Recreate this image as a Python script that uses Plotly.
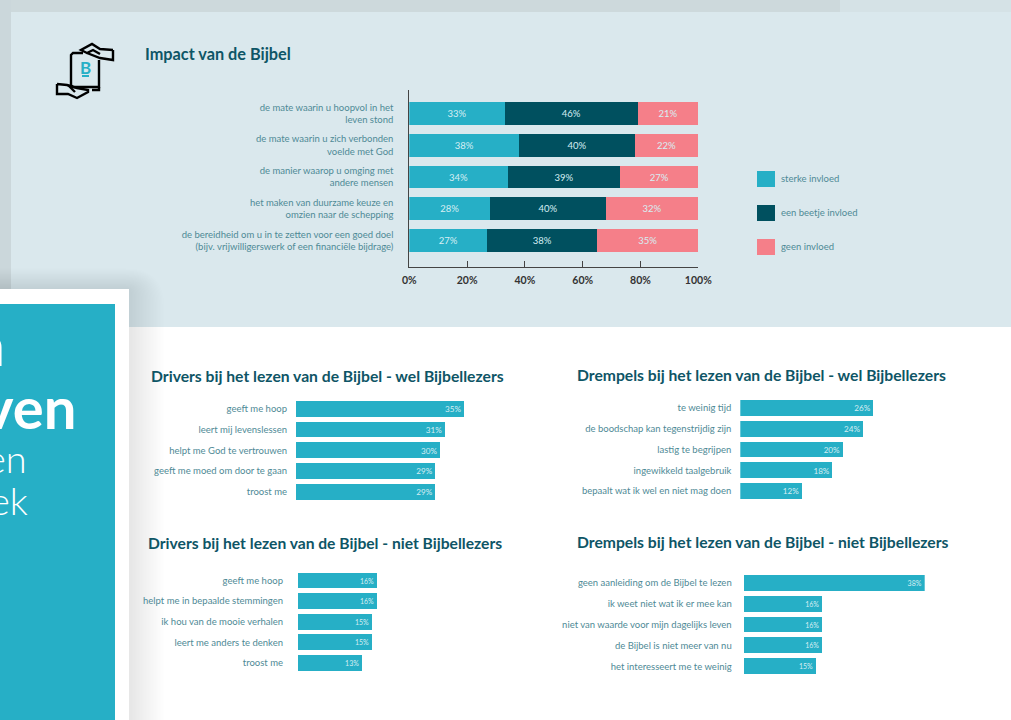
import plotly.graph_objects as go

W, H = 1011, 720
FONT = "Lato"
TEAL = "#26AFC6"
DARK = "#00505F"
PINK = "#F57F89"
TXT = "#4F8A96"
TITLE = "#0E5566"
PANEL = "#DAE8ED"
LBL = "#D6EEF3"

# ---- data -------------------------------------------------------------
impact_title = "Impact van de Bijbel"
impact_cats = [
    "de mate waarin u hoopvol in het<br>leven stond",
    "de mate waarin u zich verbonden<br>voelde met God",
    "de manier waarop u omging met<br>andere mensen",
    "het maken van duurzame keuze en<br>omzien naar de schepping",
    "de bereidheid om u in te zetten voor een goed doel<br>(bijv. vrijwilligerswerk of een financiële bijdrage)",
]
sterke = [33, 38, 34, 28, 27]
beetje = [46, 40, 39, 40, 38]
geen = [21, 22, 27, 32, 35]
legend_names = ["sterke invloed", "een beetje invloed", "geen invloed"]
impact_ticks = [0, 20, 40, 60, 80, 100]
impact_ticktext = ["0%", "20%", "40%", "60%", "80%", "100%"]

t_a = "Drivers bij het lezen van de Bijbel - wel Bijbellezers"
c_a = ["geeft me hoop", "leert mij levenslessen", "helpt me God te vertrouwen", "geeft me moed om door te gaan", "troost me"]
v_a = [35, 31, 30, 29, 29]
l_a = ["35%", "31%", "30%", "29%", "29%"]

t_b = "Drempels bij het lezen van de Bijbel - wel Bijbellezers"
c_b = ["te weinig tijd", "de boodschap kan tegenstrijdig zijn", "lastig te begrijpen", "ingewikkeld taalgebruik", "bepaalt wat ik wel en niet mag doen"]
v_b = [26, 24, 20, 18, 12]
l_b = ["26%", "24%", "20%", "18%", "12%"]

t_c = "Drivers bij het lezen van de Bijbel - niet Bijbellezers"
c_c = ["geeft me hoop", "helpt me in bepaalde stemmingen", "ik hou van de mooie verhalen", "leert me anders te denken", "troost me"]
v_c = [16, 16, 15, 15, 13]
l_c = ["16%", "16%", "15%", "15%", "13%"]

t_d = "Drempels bij het lezen van de Bijbel - niet Bijbellezers"
c_d = ["geen aanleiding om de Bijbel te lezen", "ik weet niet wat ik er mee kan", "niet van waarde voor mijn dagelijks leven", "de Bijbel is niet meer van nu", "het interesseert me te weinig"]
v_d = [38, 16.5, 16.5, 16.5, 15.2]
l_d = ["38%", "16%", "16%", "16%", "15%"]


def X(p):
    return p / W


def Y(p):
    return 1 - p / H


def rect(x0, y0, x1, y1, color, opacity=1.0):
    return dict(type="rect", xref="paper", yref="paper", x0=X(x0), x1=X(x1), y0=Y(y1), y1=Y(y0),
                fillcolor=color, opacity=opacity, line=dict(width=0), layer="below")


def path(points, width=2.4, color="#000000", close=False):
    s = "M " + " L ".join(f"{X(a):.5f},{Y(b):.5f}" for a, b in points)
    if close:
        s += " Z"
    return dict(type="path", xref="paper", yref="paper", path=s,
                line=dict(color=color, width=width), layer="above")


def soft_corner(right, top, r, opacity):
    # card silhouette with a rounded top-right corner, used for the shadow
    s = (f"M {X(-5):.5f},{Y(H):.5f} L {X(-5):.5f},{Y(top):.5f} L {X(right - r):.5f},{Y(top):.5f} "
         f"Q {X(right):.5f},{Y(top):.5f} {X(right):.5f},{Y(top + r):.5f} L {X(right):.5f},{Y(H):.5f} Z")
    return dict(type="path", xref="paper", yref="paper", path=s, fillcolor="#5A6468", opacity=opacity,
                line=dict(width=0), layer="below")


shapes = [
    rect(0, 0, W, H, "#FFFFFF"),
    rect(0, 0, W, 12, "#D5E2E6"),
    rect(0, 0, 840, 12, "#CDD9DC"),
    rect(0, 0, 11, 327, "#CBD7DB"),
    rect(11, 12, W, 327, PANEL),
]
# soft shadow of the white card
for i in range(24):
    g = 34 - i * 1.4
    shapes.append(soft_corner(130 + g, 289 - g * 0.6, g + 4, 0.009))
shapes += [
    rect(0, 289, 129, H, "#FFFFFF"),
    rect(0, 304, 115, H, TEAL),
]
# legend swatches
for py, col in zip([171, 205, 239], [TEAL, DARK, PINK]):
    shapes.append(rect(757, py, 775, py + 16, col))
# icon
shapes += [
    path([(83, 53), (73, 53), (71, 55), (71, 85), (73, 87), (99, 87), (99, 60)]),
    path([(99, 87), (99, 90), (92, 90)]),
    path([(113, 50), (100, 49), (92, 44), (81, 50), (87, 53), (93, 50), (100, 54)]),
    path([(87, 53), (100, 58), (113, 60), (113, 50)]),
    path([(57, 84), (57, 94), (68, 94), (77, 98), (88, 92), (88, 90), (77, 88), (67, 85), (57, 84)]),
    path([(68, 85), (75, 92)]),
    path([(82, 76), (89, 76)], 2, TEAL),
]

fig = go.Figure()


def add_axes(n, x0, x1, xmax, y_first, y_step, ytop, ybot, cats, standoff, font_size, line=False):
    suffix = "" if n == 1 else str(n)
    xa = dict(domain=[X(x0), X(x1)], range=[0, xmax], anchor="y" + suffix, fixedrange=True,
              showgrid=False, zeroline=False)
    if line:
        xa.update(showline=True, linecolor="#444444", linewidth=1, ticks="inside", ticklen=6,
                  tickcolor="#444444", tickmode="array", tickvals=impact_ticks, ticktext=impact_ticktext,
                  ticklabelstandoff=3,
                  tickfont=dict(family=FONT, size=10.5, color="#333333", weight="bold"))
    else:
        xa.update(visible=False)
    ya = dict(domain=[Y(ybot), Y(ytop)], anchor="x" + suffix, type="category",
              categoryorder="array", categoryarray=cats, fixedrange=True,
              range=[(ybot - y_first) / y_step, (ytop - y_first) / y_step],
              showgrid=False, zeroline=False, ticks="", ticklabelstandoff=standoff,
              tickfont=dict(family=FONT, size=font_size, color=TXT),
              showline=line, linecolor="#444444", linewidth=1)
    fig.layout["xaxis" + suffix] = xa
    fig.layout["yaxis" + suffix] = ya
    return "x" + suffix, "y" + suffix


xa, ya = add_axes(1, 409.3, 698.3, 100, 113.5, 31.75, 90, 267, impact_cats, 13, 9.5, line=True)
for name, vals, col in zip(legend_names, [sterke, beetje, geen], [TEAL, DARK, PINK]):
    fig.add_trace(go.Bar(y=impact_cats, x=vals, name=name, orientation="h", marker=dict(color=col, line=dict(width=0)),
                         width=0.72, xaxis=xa, yaxis=ya, text=[f"{v}%" for v in vals],
                         textposition="inside", insidetextanchor="middle", textangle=0,
                         insidetextfont=dict(family=FONT, size=9.5, color=LBL), showlegend=False, hoverinfo="skip"))

panels = [
    (2, 296, 464, 35, 408.8, 20.75, c_a, v_a, l_a, 8, 10, 9.5),
    (3, 740.3, 873.3, 26, 408, 20.75, c_b, v_b, l_b, 8, 10, 9.5),
    (4, 298, 377, 16, 580.5, 20.6, c_c, v_c, l_c, 14, 7, 9.5),
    (5, 743.7, 924.7, 38, 583, 20.8, c_d, v_d, l_d, 11, 7, 9.5),
]
for n, x0, x1, xmax, yf, ys, cats, vals, labs, so, lab_size, cat_size in panels:
    xa, ya = add_axes(n, x0, x1, xmax, yf, ys, yf - ys / 2, yf + ys * 4.5, cats, so, cat_size)
    fig.add_trace(go.Bar(y=cats, x=vals, orientation="h", marker=dict(color=TEAL, line=dict(width=0)),
                         width=0.76, xaxis=xa, yaxis=ya, text=labs,
                         textposition="inside", insidetextanchor="end", textangle=0,
                         insidetextfont=dict(family=FONT, size=lab_size, color=LBL), showlegend=False, hoverinfo="skip"))


def note(px, py, text, size, color, anchor="left", weight="normal", family=FONT):
    return dict(xref="paper", yref="paper", x=X(px), y=Y(py), text=text, showarrow=False, xanchor=anchor,
                yanchor="middle", xshift=0, yshift=0, borderpad=0, borderwidth=0,
                font=dict(family=family, size=size, color=color, weight=weight))


annotations = [
    note(145, 54, impact_title, 16.3, TITLE, weight="bold"),
    note(151, 376, t_a, 15.7, TITLE, weight="bold"),
    note(576.5, 375, t_b, 15.7, TITLE, weight="bold"),
    note(148, 543, t_c, 15.65, TITLE, weight="bold"),
    note(576.5, 542, t_d, 15.7, TITLE, weight="bold"),
    note(781, 178, legend_names[0], 9.5, TXT),
    note(781, 212, legend_names[1], 9.5, TXT),
    note(781, 246, legend_names[2], 9.5, TXT),
    note(85.5, 67, "B", 17, TEAL, anchor="center", weight="bold"),
    note(5, 343, "n", 58, "#FFFFFF", anchor="right", weight="bold"),
    note(76, 406, "ven", 58, "#FFFFFF", anchor="right", weight="bold"),
    note(27, 458, "en", 38, "#FFFFFF", anchor="right", weight=300),
    note(28, 500, "ek", 38, "#FFFFFF", anchor="right", weight=300),
]

fig.update_layout(width=W, height=H, margin=dict(l=0, r=0, t=0, b=0, pad=0, autoexpand=False), barmode="stack",
                  paper_bgcolor="#FFFFFF", plot_bgcolor="rgba(0,0,0,0)", showlegend=False,
                  shapes=shapes, annotations=annotations, font=dict(family=FONT), hovermode=False)
fig.write_html("out.html", config=dict(displayModeBar=False, responsive=False),
               post_script="document.body.style.margin='0';document.body.style.overflow='hidden';")
